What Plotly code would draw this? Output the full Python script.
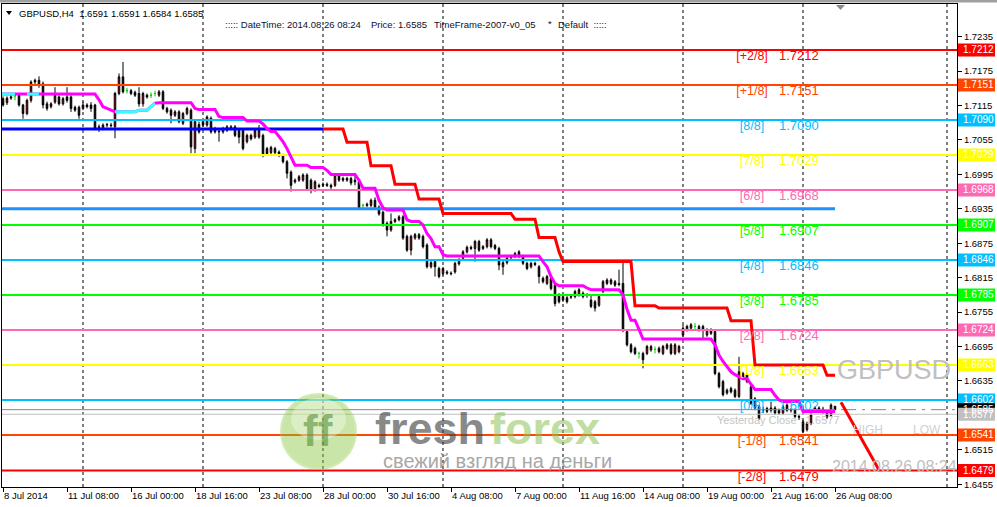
import plotly.graph_objects as go

# ---------------- data ----------------
opens = [1.7127,1.7120,1.7128,1.7132,1.7133,1.7116,1.7101,1.7124,1.7156,1.7159,
         1.7153,1.7118,1.7113,1.7121,1.7130,1.7118,1.7130,1.7130,1.7112,1.7112,
         1.7110,1.7116,1.7116,1.7116,1.7078,1.7075,1.7081,1.7081,1.7078,1.7136,
         1.7165,1.7141,1.7141,1.7138,1.7136,1.7118,1.7133,1.7133,1.7136,1.7133,
         1.7139,1.7110,1.7107,1.7098,1.7104,1.7084,1.7101,1.7107,1.7040,1.7082,
         1.7087,1.7081,1.7093,1.7075,1.7069,1.7069,1.7078,1.7078,1.7078,1.7072,
         1.7072,1.7052,1.7063,1.7060,1.7060,1.7063,1.7040,1.7033,1.7040,1.7034,
         1.7028,1.7017,1.6999,1.6982,1.6985,1.6985,1.6994,1.6985,1.6970,1.6976,
         1.6976,1.6978,1.6976,1.6976,1.6994,1.6988,1.6985,1.6988,1.6985,1.6982,
         1.6941,1.6941,1.6941,1.6950,1.6938,1.6929,1.6910,1.6898,1.6913,1.6916,
         1.6921,1.6887,1.6863,1.6884,1.6890,1.6887,1.6872,1.6834,1.6843,1.6831,
         1.6822,1.6825,1.6823,1.6825,1.6839,1.6849,1.6860,1.6868,1.6866,1.6878,
         1.6866,1.6869,1.6881,1.6871,1.6866,1.6834,1.6841,1.6850,1.6852,1.6860,
         1.6852,1.6840,1.6834,1.6840,1.6834,1.6814,1.6805,1.6814,1.6802,1.6785,
         1.6776,1.6780,1.6781,1.6782,1.6785,1.6788,1.6785,1.6776,1.6773,1.6767,
         1.6791,1.6811,1.6805,1.6808,1.6805,1.6805,1.6721,1.6698,1.6692,1.6683,
         1.6683,1.6683,1.6689,1.6690,1.6692,1.6683,1.6692,1.6698,1.6683,1.6686,
         1.6715,1.6724,1.6727,1.6730,1.6730,1.6730,1.6715,1.6724,1.6721,1.6648,
         1.6634,1.6614,1.6622,1.6619,1.6608,1.6648,1.6634,1.6625,1.6604,1.6590,
         1.6585,1.6587,1.6584,1.6588,1.6584,1.6579,1.6593,1.6584,1.6584,1.6573,
         1.6564,1.6550,1.6561,1.6585,1.6588,1.6586,1.6580,1.6575,1.6591]
highs = [1.7131,1.7131,1.7134,1.7135,1.7137,1.7118,1.7127,1.7159,1.7162,1.7166,
         1.7157,1.7122,1.7121,1.7147,1.7133,1.7130,1.7147,1.7133,1.7115,1.7115,
         1.7122,1.7119,1.7121,1.7118,1.7082,1.7084,1.7085,1.7085,1.7139,1.7171,
         1.7191,1.7146,1.7144,1.7141,1.7147,1.7139,1.7136,1.7138,1.7141,1.7142,
         1.7142,1.7113,1.7110,1.7107,1.7107,1.7104,1.7113,1.7110,1.7090,1.7087,
         1.7090,1.7098,1.7096,1.7078,1.7073,1.7078,1.7081,1.7081,1.7081,1.7075,
         1.7075,1.7066,1.7066,1.7075,1.7081,1.7066,1.7043,1.7045,1.7043,1.7037,
         1.7031,1.7020,1.7002,1.6988,1.6994,1.6997,1.6997,1.6988,1.6985,1.6979,
         1.6981,1.6981,1.6979,1.6997,1.6997,1.6991,1.6991,1.6991,1.6994,1.6985,
         1.6944,1.6946,1.6953,1.6955,1.6941,1.6932,1.6913,1.6927,1.6919,1.6924,
         1.6924,1.6890,1.6890,1.6893,1.6893,1.6890,1.6875,1.6844,1.6846,1.6834,
         1.6834,1.6828,1.6826,1.6843,1.6849,1.6863,1.6871,1.6871,1.6881,1.6881,
         1.6872,1.6884,1.6884,1.6874,1.6869,1.6844,1.6852,1.6855,1.6860,1.6863,
         1.6855,1.6843,1.6843,1.6843,1.6837,1.6817,1.6820,1.6817,1.6805,1.6788,
         1.6785,1.6783,1.6785,1.6794,1.6797,1.6791,1.6788,1.6785,1.6776,1.6785,
         1.6811,1.6814,1.6814,1.6811,1.6829,1.6845,1.6724,1.6701,1.6695,1.6686,
         1.6686,1.6698,1.6698,1.6695,1.6695,1.6698,1.6701,1.6701,1.6701,1.6698,
         1.6733,1.6733,1.6736,1.6736,1.6733,1.6733,1.6727,1.6727,1.6724,1.6651,
         1.6637,1.6622,1.6625,1.6622,1.6677,1.6651,1.6648,1.6628,1.6607,1.6593,
         1.6590,1.6590,1.6599,1.6591,1.6587,1.6593,1.6596,1.6588,1.6587,1.6577,
         1.6567,1.6564,1.6579,1.6591,1.6591,1.6590,1.6583,1.6596,1.6591]
lows = [1.7113,1.7116,1.7125,1.7124,1.7113,1.7092,1.7098,1.7120,1.7150,1.7146,
        1.7110,1.7106,1.7110,1.7118,1.7115,1.7115,1.7120,1.7104,1.7104,1.7092,
        1.7107,1.7110,1.7104,1.7072,1.7069,1.7072,1.7077,1.7077,1.7058,1.7133,
        1.7136,1.7136,1.7133,1.7130,1.7113,1.7113,1.7127,1.7128,1.7131,1.7130,
        1.7107,1.7101,1.7084,1.7095,1.7084,1.7081,1.7098,1.7032,1.7032,1.7066,
        1.7078,1.7078,1.7066,1.7066,1.7052,1.7066,1.7069,1.7072,1.7060,1.7049,
        1.7037,1.7049,1.7054,1.7057,1.7057,1.7025,1.7028,1.7030,1.7030,1.7025,
        1.7014,1.6988,1.6965,1.6979,1.6982,1.6982,1.6967,1.6962,1.6965,1.6971,
        1.6973,1.6973,1.6968,1.6973,1.6982,1.6982,1.6982,1.6976,1.6976,1.6934,
        1.6936,1.6938,1.6938,1.6935,1.6923,1.6904,1.6887,1.6895,1.6910,1.6913,
        1.6881,1.6860,1.6854,1.6881,1.6881,1.6866,1.6831,1.6831,1.6817,1.6814,
        1.6819,1.6820,1.6819,1.6822,1.6836,1.6846,1.6857,1.6863,1.6843,1.6860,
        1.6863,1.6866,1.6866,1.6863,1.6828,1.6820,1.6838,1.6847,1.6849,1.6849,
        1.6837,1.6828,1.6831,1.6835,1.6805,1.6805,1.6802,1.6793,1.6765,1.6770,
        1.6773,1.6770,1.6778,1.6779,1.6782,1.6779,1.6780,1.6762,1.6756,1.6764,
        1.6788,1.6802,1.6802,1.6799,1.6800,1.6720,1.6695,1.6683,1.6680,1.6674,
        1.6657,1.6680,1.6686,1.6683,1.6683,1.6680,1.6689,1.6680,1.6680,1.6683,
        1.6712,1.6721,1.6724,1.6725,1.6721,1.6710,1.6712,1.6715,1.6645,1.6622,
        1.6608,1.6611,1.6613,1.6605,1.6605,1.6637,1.6631,1.6593,1.6584,1.6567,
        1.6579,1.6579,1.6580,1.6576,1.6576,1.6576,1.6581,1.6580,1.6570,1.6567,
        1.6544,1.6547,1.6558,1.6584,1.6582,1.6578,1.6569,1.6572,1.6584]
closes = [1.7116,1.7128,1.7130,1.7132,1.7116,1.7101,1.7124,1.7156,1.7159,1.7150,
          1.7116,1.7110,1.7118,1.7133,1.7118,1.7127,1.7124,1.7110,1.7107,1.7098,
          1.7116,1.7113,1.7110,1.7075,1.7077,1.7081,1.7082,1.7080,1.7136,1.7165,
          1.7139,1.7141,1.7136,1.7133,1.7118,1.7136,1.7130,1.7133,1.7136,1.7139,
          1.7110,1.7104,1.7098,1.7104,1.7087,1.7101,1.7110,1.7043,1.7087,1.7069,
          1.7081,1.7095,1.7069,1.7069,1.7070,1.7075,1.7072,1.7075,1.7063,1.7060,
          1.7040,1.7063,1.7057,1.7072,1.7072,1.7028,1.7031,1.7042,1.7033,1.7028,
          1.7017,1.6997,1.6976,1.6985,1.6991,1.6994,1.6970,1.6967,1.6982,1.6974,
          1.6978,1.6976,1.6973,1.6994,1.6985,1.6985,1.6988,1.6980,1.6982,1.6937,
          1.6941,1.6943,1.6950,1.6938,1.6926,1.6909,1.6898,1.6913,1.6916,1.6921,
          1.6884,1.6863,1.6887,1.6890,1.6884,1.6869,1.6834,1.6841,1.6834,1.6817,
          1.6831,1.6823,1.6822,1.6840,1.6846,1.6860,1.6868,1.6866,1.6878,1.6863,
          1.6869,1.6881,1.6869,1.6866,1.6837,1.6841,1.6849,1.6852,1.6857,1.6852,
          1.6840,1.6831,1.6840,1.6838,1.6817,1.6808,1.6817,1.6796,1.6770,1.6773,
          1.6782,1.6773,1.6782,1.6791,1.6794,1.6782,1.6784,1.6765,1.6762,1.6782,
          1.6808,1.6805,1.6811,1.6802,1.6803,1.6724,1.6698,1.6686,1.6683,1.6683,
          1.6672,1.6695,1.6695,1.6690,1.6686,1.6695,1.6698,1.6683,1.6698,1.6695,
          1.6727,1.6730,1.6733,1.6730,1.6724,1.6725,1.6724,1.6718,1.6648,1.6625,
          1.6611,1.6619,1.6616,1.6608,1.6651,1.6640,1.6645,1.6596,1.6587,1.6570,
          1.6584,1.6582,1.6588,1.6579,1.6579,1.6590,1.6584,1.6585,1.6573,1.6572,
          1.6547,1.6561,1.6576,1.6588,1.6586,1.6583,1.6572,1.6593,1.6585]

# moving-average style indicator: (value, number of bars)
ma_runs = [(1.7135,24),(1.7125,1),(1.7113,1),(1.7110,1),(1.7107,1),(1.7104,6),
           (1.7107,3),(1.7113,1),(1.7119,1),(1.7120,9),(1.7110,1),(1.7108,5),
           (1.7096,1),(1.7094,6),(1.7088,4),(1.7083,1),(1.7075,1),(1.7070,2),
           (1.7061,1),(1.7052,1),(1.7040,1),(1.7025,1),(1.7011,4),(1.7007,4),
           (1.7002,1),(1.6995,7),(1.6985,1),(1.6971,4),(1.6950,1),(1.6937,1),
           (1.6933,5),(1.6916,1),(1.6913,3),(1.6907,1),(1.6892,1),(1.6883,1),
           (1.6869,2),(1.6855,1),(1.6853,24),(1.6843,1),(1.6834,1),(1.6817,1),
           (1.6805,1),(1.6801,7),(1.6797,1),(1.6794,8),(1.6785,1),(1.6760,1),
           (1.6741,2),(1.6725,1),(1.6708,18),(1.6698,1),(1.6680,1),(1.6669,1),
           (1.6660,1),(1.6651,1),(1.6646,1),(1.6642,1),(1.6639,2),(1.6630,1),
           (1.6620,5),(1.6610,1),(1.6602,1),(1.6599,5),(1.6582,9)]
# colour state of that indicator (1 = cyan, 0 = magenta): (state, bars)
ma_state_runs = [(1,4),(0,2),(1,4),(0,18),(1,11),(0,170)]

# red trailing line, starting at bar 80: (value, bars)
trail_start = 80
trail_runs = [(1.7074,6),(1.7051,6),(1.7010,6),(1.6978,6),(1.6952,6),(1.6927,18),
              (1.6917,6),(1.6885,5),(1.6860,1),(1.6843,18),(1.6766,6),(1.6762,18),
              (1.6740,6),(1.6663,18),(1.6645,3)]

blue_level, blue_end_bar = 1.7074, 80
hline_level = 1.6935
bid_price = 1.6585
yesterday_close = 1.6577
proj_bars = [209.5, 219.0]
proj_prices = [1.6598, 1.6480]

murrey_names = ["[+2/8]","[+1/8]","[8/8]","[7/8]","[6/8]","[5/8]","[4/8]",
                "[3/8]","[2/8]","[1/8]","[0/8]","[-1/8]","[-2/8]"]
murrey_levels = [1.7212,1.7151,1.7090,1.7029,1.6968,1.6907,1.6846,
                 1.6785,1.6724,1.6663,1.6602,1.6541,1.6479]
murrey_colors = ["#FF0000","#FF4500","#00BFFF","#FFFF00","#FF69B4","#00FF00","#00BFFF",
                 "#00FF00","#FF69B4","#FFFF00","#00BFFF","#FF4500","#FF0000"]

tick_bars = [0,16,32,48,64,80,96,112,128,144,160,176,192,208]
tick_labels = ["8 Jul 2014","11 Jul 08:00","16 Jul 00:00","18 Jul 16:00","23 Jul 08:00",
               "28 Jul 00:00","30 Jul 16:00","4 Aug 08:00","7 Aug 00:00","11 Aug 16:00",
               "14 Aug 08:00","19 Aug 00:00","21 Aug 16:00","26 Aug 08:00"]
price_ticks = [1.7235,1.7175,1.7115,1.7055,1.6995,1.6935,1.6875,1.6815,1.6755,
               1.6695,1.6635,1.6575,1.6515,1.6455]
grid_bars = [20,50,80,110,140,170,200,236]

# ---------------- geometry helpers ----------------
W, H = 997, 507
ML, MR, MT, MB = 2, 40, 4, 20
PW, PH = W - ML - MR, H - MT - MB
X_RANGE = [-0.25, 238.5]
Y_RANGE = [1.64502, 1.72920]
PXU = PH / (Y_RANGE[1] - Y_RANGE[0])  # pixels per price unit


def PX(px):
    return (px - ML) / PW


def PY(py):
    return (H - MB - py) / PH


def expand(runs):
    out = []
    for v, n in runs:
        out += [v] * n
    return out


bars = list(range(len(opens)))
ma = expand(ma_runs)
state = expand(ma_state_runs)
trail = expand(trail_runs)
trail_x = list(range(trail_start, trail_start + len(trail)))

FONT = "Liberation Sans, Arial, sans-serif"

fig = go.Figure()

# candles (normal and doji)
nd = [i for i in bars if opens[i] != closes[i]]
dj = [i for i in bars if opens[i] == closes[i]]
fig.add_trace(go.Candlestick(
    x=nd, open=[opens[i] for i in nd], high=[highs[i] for i in nd],
    low=[lows[i] for i in nd], close=[closes[i] for i in nd],
    increasing=dict(fillcolor="#FF0000", line=dict(color="#000000", width=1)),
    decreasing=dict(fillcolor="#000000", line=dict(color="#000000", width=1)),
    whiskerwidth=0, hoverinfo="skip", showlegend=False))
fig.add_trace(go.Candlestick(
    x=dj, open=[opens[i] for i in dj], high=[highs[i] for i in dj],
    low=[lows[i] for i in dj], close=[closes[i] for i in dj],
    increasing=dict(fillcolor="#00FF00", line=dict(color="#00CC00", width=1)),
    decreasing=dict(fillcolor="#00FF00", line=dict(color="#00CC00", width=1)),
    whiskerwidth=0, hoverinfo="skip", showlegend=False))

# thin gray lines: bid line and yesterday close
fig.add_trace(go.Scatter(x=X_RANGE, y=[yesterday_close] * 2, mode="lines",
                         line=dict(color="#C0C0C0", width=1), hoverinfo="skip", showlegend=False))
fig.add_trace(go.Scatter(x=[X_RANGE[0], bars[-1]], y=[bid_price] * 2, mode="lines",
                         line=dict(color="#778899", width=1), hoverinfo="skip", showlegend=False))
fig.add_trace(go.Scatter(x=[bars[-1] + 1.5, X_RANGE[1]], y=[bid_price] * 2, mode="lines",
                         line=dict(color="#778899", width=1, dash="longdashdot"),
                         hoverinfo="skip", showlegend=False))

# Murrey math levels
for lv, col in zip(murrey_levels, murrey_colors):
    fig.add_trace(go.Scatter(x=X_RANGE, y=[lv, lv], mode="lines",
                             line=dict(color=col, width=2), hoverinfo="skip", showlegend=False))

# horizontal line objects
fig.add_trace(go.Scatter(x=[X_RANGE[0], bars[-1]], y=[hline_level] * 2, mode="lines",
                         line=dict(color="#1E90FF", width=3), hoverinfo="skip", showlegend=False))
fig.add_trace(go.Scatter(x=[X_RANGE[0], blue_end_bar], y=[blue_level] * 2, mode="lines",
                         line=dict(color="#0000FF", width=3), hoverinfo="skip", showlegend=False))

# red trailing indicator
fig.add_trace(go.Scatter(x=trail_x, y=trail, mode="lines",
                         line=dict(color="#FF0000", width=3), hoverinfo="skip", showlegend=False))

# moving average magenta / cyan
fig.add_trace(go.Scatter(x=[X_RANGE[0]] + bars, y=[ma[0]] + ma, mode="lines",
                         line=dict(color="#FF00FF", width=3), hoverinfo="skip", showlegend=False))
cy = [ma[i] if state[i] == 1 else None for i in bars]
fig.add_trace(go.Scatter(x=[X_RANGE[0]] + bars, y=[ma[0]] + cy, mode="lines",
                         line=dict(color="#33FFFF", width=3), hoverinfo="skip",
                         showlegend=False, connectgaps=False))

# projection line
fig.add_trace(go.Scatter(x=proj_bars, y=proj_prices, mode="lines",
                         line=dict(color="#FF0000", width=3), hoverinfo="skip", showlegend=False))

# Murrey labels
fig.add_trace(go.Scatter(x=[187.25] * len(murrey_levels),
                         y=[lv - 7 / PXU for lv in murrey_levels], mode="text",
                         text=murrey_names, textposition="middle center",
                         textfont=dict(family=FONT, size=12.5, color=murrey_colors),
                         hoverinfo="skip", showlegend=False))
fig.add_trace(go.Scatter(x=[194.0] * len(murrey_levels),
                         y=[lv - 7 / PXU for lv in murrey_levels], mode="text",
                         text=["%.4f" % lv for lv in murrey_levels], textposition="middle right",
                         textfont=dict(family=FONT, size=13, color=murrey_colors),
                         hoverinfo="skip", showlegend=False))


def ytext(py):
    return Y_RANGE[1] - (py - MT) / PXU


def xbar(px):
    return X_RANGE[0] + (px - ML) / 4.0


fig.add_trace(go.Scatter(x=[xbar(894)], y=[ytext(372)], mode="text", text=["GBPUSD"],
                         textposition="middle center",
                         textfont=dict(family=FONT, size=27, color="#C0C0C0"),
                         hoverinfo="skip", showlegend=False))
fig.add_trace(go.Scatter(x=[xbar(853), xbar(913)], y=[ytext(431)] * 2, mode="text",
                         text=["HIGH", "LOW"], textposition="middle right",
                         textfont=dict(family=FONT, size=12, color="#D0D0D0"),
                         hoverinfo="skip", showlegend=False))
fig.add_trace(go.Scatter(x=[xbar(717)], y=[ytext(421)], mode="text",
                         text=["Yesterday Close : %.4f" % yesterday_close],
                         textposition="middle right",
                         textfont=dict(family=FONT, size=11, color="#C4C4C4"),
                         hoverinfo="skip", showlegend=False))
fig.add_trace(go.Scatter(x=[xbar(832)], y=[ytext(468)], mode="text",
                         text=["2014.08.26 08:24"], textposition="middle right",
                         textfont=dict(family=FONT, size=16, color="#C0C0C0"),
                         hoverinfo="skip", showlegend=False, cliponaxis=True))

shapes = []
for gb in grid_bars:
    shapes.append(dict(type="line", xref="x", yref="paper", x0=gb, x1=gb, y0=0, y1=1,
                       line=dict(color="#000000", width=1, dash="3px,3px"), layer="below"))

# window top band
shapes.append(dict(type="rect", xref="paper", yref="paper", x0=PX(0), x1=PX(W),
                   y0=PY(2.5), y1=PY(0), fillcolor="#A0A0A0", line=dict(width=0)))

# right-axis price boxes
box_items = [(lv, c) for lv, c in zip(murrey_levels, murrey_colors)]
box_items += [(bid_price, "#000000"), (yesterday_close, "#C0C0C0")]
annotations = []
for lv, c in box_items:
    shapes.append(dict(type="rect", xref="paper", yref="y", x0=PX(958), x1=PX(995),
                       y0=lv - 6.5 / PXU, y1=lv + 6.5 / PXU, fillcolor=c,
                       line=dict(width=0), layer="above"))
    annotations.append(dict(xref="paper", yref="y", x=PX(960.5), y=lv, text="%.4f" % lv,
                            xanchor="left", yanchor="middle", showarrow=False,
                            font=dict(family=FONT, size=10, color="#FFFFFF")))

shapes.append(dict(type="path", xref="paper", yref="paper",
                   path="M %f,%f L %f,%f L %f,%f Z" % (PX(836), PY(5), PX(845), PY(5), PX(840.5), PY(10)),
                   fillcolor="#8A8A8A", line=dict(width=0)))
shapes.append(dict(type="path", xref="paper", yref="paper",
                   path="M %f,%f L %f,%f L %f,%f Z" % (PX(6), PY(11), PX(12), PY(11), PX(9), PY(15)),
                   fillcolor="#000000", line=dict(width=0)))

# freshforex watermark
shapes.append(dict(type="circle", xref="paper", yref="paper", x0=PX(281), x1=PX(356),
                   y0=PY(469), y1=PY(394), fillcolor="#8CC63F", opacity=0.45,
                   line=dict(color="#9AD45A", width=2), layer="above"))
shapes.append(dict(type="circle", xref="paper", yref="paper", x0=PX(291), x1=PX(346),
                   y0=PY(440), y1=PY(398), fillcolor="#FFFFFF", opacity=0.35,
                   line=dict(width=0), layer="above"))


def note(px, py, text, size, color, xanchor="left", opacity=1.0, bold=False):
    t = "<b>%s</b>" % text if bold else text
    annotations.append(dict(xref="paper", yref="paper", x=PX(px), y=PY(py), text=t,
                            xanchor=xanchor, yanchor="middle", showarrow=False,
                            opacity=opacity, font=dict(family=FONT, size=size, color=color)))


note(318, 430, "ff", 44, "#4E8A2A", xanchor="center", opacity=0.55, bold=True)
note(373, 428, "fresh", 45, "#3C3C3C", opacity=0.6, bold=True)
note(488, 428, "forex", 45, "#8DC455", opacity=0.55, bold=True)
note(381, 461, "свежий взгляд на деньги", 20, "#8A8A8A", opacity=0.75)

note(17, 13, "GBPUSD,H4  1.6591 1.6591 1.6584 1.6585", 9.5, "#000000")
note(223, 25, "::::: DateTime: 2014.08.26 08:24", 9.5, "#101028")
note(369, 25, "Price: 1.6585", 9.5, "#101028")
note(432, 25, "TimeFrame-2007-v0_05", 9.5, "#101028")
note(546, 23, "*", 9.5, "#101028")
note(556, 25, "Default  :::::", 9.5, "#101028")

fig.update_layout(
    width=W, height=H, margin=dict(l=ML, r=MR, t=MT, b=MB, pad=0, autoexpand=False),
    paper_bgcolor="#FFFFFF", plot_bgcolor="#FFFFFF", showlegend=False,
    boxgap=0.45, shapes=shapes, annotations=annotations, hovermode=False,
    xaxis=dict(range=X_RANGE, rangeslider=dict(visible=False), tickmode="array",
               tickvals=tick_bars, ticktext=tick_labels, ticks="outside", ticklen=4,
               tickcolor="#000000", ticklabelposition="outside right", tickangle=0,
               automargin=False,
               showline=True, linecolor="#000000", linewidth=1, mirror=True,
               showgrid=False, zeroline=False,
               tickfont=dict(family=FONT, size=9.5, color="#000000")),
    yaxis=dict(range=Y_RANGE, side="right", tickmode="array", tickvals=price_ticks,
               ticktext=["%.4f" % v for v in price_ticks], ticks="outside", ticklen=4,
               tickcolor="#000000", showline=True, linecolor="#000000", linewidth=1,
               mirror=True, showgrid=False, zeroline=False, automargin=False,
               tickfont=dict(family=FONT, size=9.5, color="#000000")),
)

fig.write_html("out.html", config={"displayModeBar": False, "staticPlot": True},
               post_script="document.body.style.margin='0';document.body.style.overflow='hidden';")
